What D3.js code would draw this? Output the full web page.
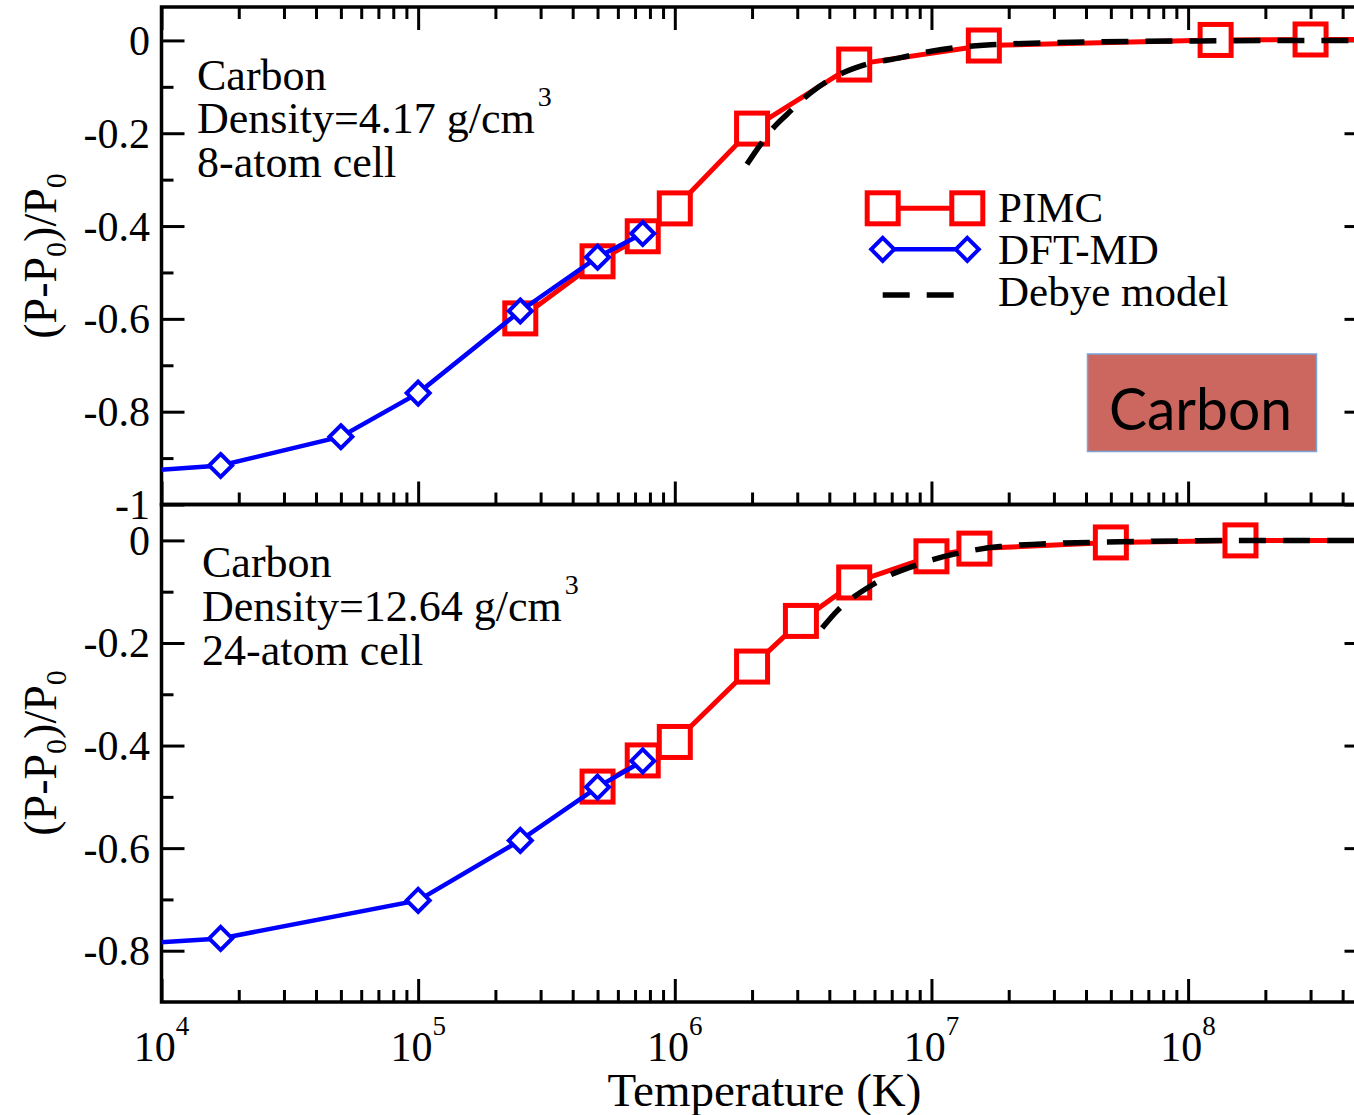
<!DOCTYPE html>
<html><head><meta charset="utf-8">
<script src="https://cdn.jsdelivr.net/npm/d3@7"></script>
<style>body{margin:0;background:#fff}</style>
</head><body>
<svg id="c" width="1354" height="1115"></svg>
<script>
// ---------- data ----------
const pimcTopT = [2.5e5, 5e5, 7.5e5, 1e6, 2e6, 5e6, 1.6e7, 1.28e8, 3e8, 1e9];
const pimcTopV = [-0.599, -0.476, -0.422, -0.362, -0.190, -0.052, -0.011, 0.001, 0.002, 0.002];
const dftTopT = [5e3, 1.7e4, 5e4, 1e5, 2.5e5, 5e5, 7.5e5];
const dftTopV = [-0.937, -0.916, -0.854, -0.760, -0.583, -0.467, -0.416];
const debyeTopT = [1.91e6, 2.16e6, 2.39e6, 2.74e6, 3.38e6, 4.4e6, 5.4e6, 7.6e6, 1.0e7, 1.7e7, 4.5e7, 1.1e8, 5e8];
const debyeTopV = [-0.267, -0.224, -0.192, -0.159, -0.113, -0.073, -0.054, -0.037, -0.023, -0.0095, -0.003, -0.001, 0];

const pimcBotT = [5e5, 7.5e5, 1e6, 2e6, 3.1e6, 5e6, 1e7, 1.47e7, 5e7, 1.6e8, 1e9];
const pimcBotV = [-0.480, -0.429, -0.393, -0.246, -0.157, -0.082, -0.031, -0.016, -0.004, 0.0, 0.0];
const dftBotT = [5e3, 1.7e4, 1e5, 2.5e5, 5e5, 7.5e5];
const dftBotV = [-0.793, -0.776, -0.702, -0.585, -0.481, -0.430];
const debyeBotT = [3.75e6, 4.34e6, 4.96e6, 5.94e6, 7.0e6, 8.5e6, 1.02e7, 1.3e7, 1.85e7, 4.5e7, 1.6e8, 5e8];
const debyeBotV = [-0.171, -0.135, -0.111, -0.0855, -0.066, -0.050, -0.037, -0.024, -0.012, -0.0035, -0.0003, 0];

const xMajor = [1e4, 1e5, 1e6, 1e7, 1e8];
const xExp = ["4", "5", "6", "7", "8"];
const yTopMajor = [0, -0.2, -0.4, -0.6, -0.8, -1];
const yTopLabels = ["0", "-0.2", "-0.4", "-0.6", "-0.8", "-1"];
const yTopMinor = [-0.1, -0.3, -0.5, -0.7, -0.9];
const yBotMajor = [0, -0.2, -0.4, -0.6, -0.8];
const yBotLabels = ["0", "-0.2", "-0.4", "-0.6", "-0.8"];
const yBotMinor = [-0.1, -0.3, -0.5, -0.7];

const seriesNames = ["PIMC", "DFT-MD", "Debye model"];
const notesTop = ["Carbon", "Density=4.17 g/cm", "8-atom cell"];
const notesBot = ["Carbon", "Density=12.64 g/cm", "24-atom cell"];

// ---------- layout ----------
const svg = d3.select("#c");
const serif = "'Liberation Serif','Times New Roman',serif";
const xL = 161.5, xR = 1367.5;
const x = d3.scaleLog().domain([1e4, 5e8]).range([xL, xR]);
const xMinor = [];
for (let e = 4; e <= 8; e++) for (let m = 2; m <= 9; m++) { const v = m * Math.pow(10, e); if (v <= 5e8) xMinor.push(v); }

const panels = [
  {top: 7, bottom: 504.5, dom: [-1, 0.072], maj: yTopMajor, lab: yTopLabels, min: yTopMinor, topTicks: true,
   pT: pimcTopT, pV: pimcTopV, dT: dftTopT, dV: dftTopV, bT: debyeTopT, bV: debyeTopV,
   notes: notesTop, nx: 197, ny: [90, 133, 177], supY: 106, ylabY: 256},
  {top: 504.5, bottom: 1002, dom: [-0.9, 0.07], maj: yBotMajor, lab: yBotLabels, min: yBotMinor, topTicks: false,
   pT: pimcBotT, pV: pimcBotV, dT: dftBotT, dV: dftBotV, bT: debyeBotT, bV: debyeBotV,
   notes: notesBot, nx: 202, ny: [577, 621, 664.5], supY: 594, ylabY: 753}
];

const sq = 31, dia = 11.5;
function squares(g, pts) {
  g.selectAll(null).data(pts).join("rect")
    .attr("x", d => d[0] - sq / 2).attr("y", d => d[1] - sq / 2)
    .attr("width", sq).attr("height", sq)
    .attr("fill", "#fff").attr("stroke", "#ff0000").attr("stroke-width", 5);
}
function diamonds(g, pts) {
  g.selectAll(null).data(pts).join("path")
    .attr("d", d => `M${d[0]},${d[1] - dia}L${d[0] + dia},${d[1]}L${d[0]},${d[1] + dia}L${d[0] - dia},${d[1]}Z`)
    .attr("fill", "#fff").attr("stroke", "#0000ff").attr("stroke-width", 4);
}

panels.forEach((p, i) => {
  const y = d3.scaleLinear().domain(p.dom).range([p.bottom, p.top]);
  const clipId = "clip" + i;
  svg.append("clipPath").attr("id", clipId).append("rect")
    .attr("x", xL).attr("y", p.top).attr("width", xR - xL).attr("height", p.bottom - p.top);

  // axes ticks (inward)
  const tickStyle = g => { g.select(".domain").remove(); g.selectAll("line").attr("stroke", "#000").attr("stroke-width", 3); g.selectAll("text").remove(); };
  svg.append("g").attr("transform", `translate(0,${p.bottom})`)
    .call(d3.axisBottom(x).tickValues(xMajor).tickSize(-23).tickFormat("")).call(tickStyle);
  svg.append("g").attr("transform", `translate(0,${p.bottom})`)
    .call(d3.axisBottom(x).tickValues(xMinor).tickSize(-12).tickFormat("")).call(tickStyle);
  if (p.topTicks) {
    svg.append("g").attr("transform", `translate(0,${p.top})`)
      .call(d3.axisTop(x).tickValues(xMajor).tickSize(-23).tickFormat("")).call(tickStyle);
    svg.append("g").attr("transform", `translate(0,${p.top})`)
      .call(d3.axisTop(x).tickValues(xMinor).tickSize(-12).tickFormat("")).call(tickStyle);
  }
  svg.append("g").attr("transform", `translate(${xL},0)`)
    .call(d3.axisLeft(y).tickValues(p.maj).tickSize(-23).tickFormat("")).call(tickStyle);
  svg.append("g").attr("transform", `translate(${xL},0)`)
    .call(d3.axisLeft(y).tickValues(p.min).tickSize(-12).tickFormat("")).call(tickStyle);
  svg.append("g").attr("transform", `translate(${xR},0)`)
    .call(d3.axisRight(y).tickValues(p.maj).tickSize(-23).tickFormat("")).call(tickStyle);
  svg.append("g").attr("transform", `translate(${xR},0)`)
    .call(d3.axisRight(y).tickValues(p.min).tickSize(-12).tickFormat("")).call(tickStyle);

  // y tick labels
  svg.append("g").selectAll("text").data(p.maj).join("text")
    .attr("x", 150).attr("y", d => y(d) + 14.5).attr("text-anchor", "end")
    .attr("font-family", serif).attr("font-size", 42).text((d, k) => p.lab[k]);

  // frame
  svg.append("rect").attr("x", xL).attr("y", p.top).attr("width", xR - xL).attr("height", p.bottom - p.top)
    .attr("fill", "none").attr("stroke", "#000").attr("stroke-width", 3.5);

  const g = svg.append("g").attr("clip-path", `url(#${clipId})`);
  const line = d3.line().x(d => x(d[0])).y(d => y(d[1]));
  const pimc = p.pT.map((t, k) => [t, p.pV[k]]);
  const dft = p.dT.map((t, k) => [t, p.dV[k]]);
  const deb = p.bT.map((t, k) => [t, p.bV[k]]);
  g.append("path").attr("d", line(pimc)).attr("fill", "none").attr("stroke", "#ff0000").attr("stroke-width", 5);
  squares(g, pimc.map(d => [x(d[0]), y(d[1])]));
  g.append("path").attr("d", line(dft)).attr("fill", "none").attr("stroke", "#0000ff").attr("stroke-width", 4.5);
  diamonds(g, dft.map(d => [x(d[0]), y(d[1])]));
  g.append("path").attr("d", d3.line().x(d => x(d[0])).y(d => y(d[1])).curve(d3.curveMonotoneX)(deb))
    .attr("fill", "none").attr("stroke", "#000").attr("stroke-width", 5.5).attr("stroke-dasharray", "27,17");

  // notes
  p.notes.forEach((s, k) => {
    const t = svg.append("text").attr("x", p.nx).attr("y", p.ny[k]).attr("font-family", serif).attr("font-size", 44).text(s);
    if (k === 1) t.append("tspan").attr("font-size", 28).attr("dx", 3).attr("dy", p.supY - p.ny[1]).text("3");
  });

  // y axis title
  const yt = svg.append("text").attr("transform", `translate(56,${p.ylabY}) rotate(-90)`)
    .attr("text-anchor", "middle").attr("font-family", serif).attr("font-size", 46);
  yt.append("tspan").text("(P-P");
  yt.append("tspan").attr("font-size", 30).attr("dy", 10).text("0");
  yt.append("tspan").attr("dy", -10).text(")/P");
  yt.append("tspan").attr("font-size", 30).attr("dy", 10).text("0");
});

// x tick labels
svg.append("g").selectAll("text").data(xMajor).join("text")
  .attr("x", d => x(d)).attr("y", 1061).attr("text-anchor", "middle")
  .attr("font-family", serif).attr("font-size", 42)
  .each(function (d, k) {
    const t = d3.select(this);
    t.append("tspan").text("10");
    t.append("tspan").attr("font-size", 27).attr("dy", -26).text(xExp[k]);
  });
svg.append("text").attr("x", (xL + xR) / 2).attr("y", 1106).attr("text-anchor", "middle")
  .attr("font-family", serif).attr("font-size", 47).text("Temperature (K)");

// legend
const lg = svg.append("g");
const lx0 = 882.7, lx1 = 967.3;
lg.append("line").attr("x1", lx0).attr("x2", lx1).attr("y1", 208.3).attr("y2", 208.3).attr("stroke", "#ff0000").attr("stroke-width", 5);
squares(lg, [[lx0, 208.3], [lx1, 208.3]]);
lg.append("line").attr("x1", lx0).attr("x2", lx1).attr("y1", 249.3).attr("y2", 249.3).attr("stroke", "#0000ff").attr("stroke-width", 4.5);
diamonds(lg, [[lx0, 249.3], [lx1, 249.3]]);
lg.append("line").attr("x1", lx0).attr("x2", 953.7).attr("y1", 295).attr("y2", 295).attr("stroke", "#000").attr("stroke-width", 5.5).attr("stroke-dasharray", "27,17");
lg.selectAll("text.l").data(seriesNames).join("text")
  .attr("x", 998).attr("y", (d, k) => [222, 264, 306][k])
  .attr("font-family", serif).attr("font-size", 43).text(d => d);

// Carbon box
svg.append("rect").attr("x", 1087.5).attr("y", 354).attr("width", 229).attr("height", 97.5)
  .attr("fill", "#cc6760").attr("stroke", "#7ba3d6").attr("stroke-width", 1.5);
svg.append("text").attr("x", 1109).attr("y", 430).attr("font-family", "Lato, 'Open Sans', sans-serif")
  .attr("font-size", 58).attr("textLength", 183).attr("lengthAdjust", "spacingAndGlyphs").text("Carbon");
</script>
</body></html>
